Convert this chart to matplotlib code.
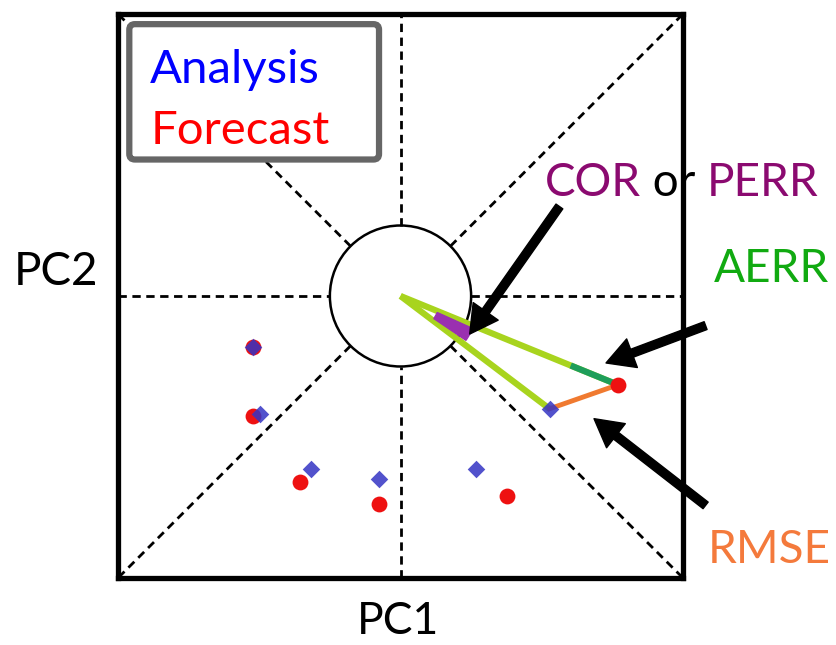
import numpy as np
import matplotlib.pyplot as plt
from matplotlib.patches import Circle, Wedge, FancyBboxPatch

plt.rcParams['font.family'] = ['Lato', 'DejaVu Sans']

# analysis / forecast positions in PC1-PC2 space
ana_pc1 = [-2.09, -1.99, -1.27, -0.30, 1.07, 2.11]
ana_pc2 = [-0.73, -1.68, -2.45, -2.59, -2.45, -1.60]
fc_pc1 = [-2.09, -2.09, -1.43, -0.31, 1.51, 3.08]
fc_pc2 = [-0.73, -1.70, -2.64, -2.95, -2.84, -1.26]

lim = 4.0
col_ana = '#3434c4'
col_fc = '#ee1111'
col_purple = '#8b0a70'

fig = plt.figure(figsize=(8.36, 6.45), dpi=100)
ax = fig.add_axes([118 / 836, 1 - 578 / 645, 565 / 836, 564 / 645])
ax.set_xlim(-lim, lim)
ax.set_ylim(-lim, lim)
ax.set_xticks([])
ax.set_yticks([])
for sp in ax.spines.values():
    sp.set_linewidth(3.8)
    sp.set_zorder(10)

# phase lines
dash = dict(color='k', lw=2.0, ls=(0, (3, 2)), zorder=1)
ax.plot([-lim, -1], [0, 0], **dash)
ax.plot([1, lim], [0, 0], **dash)
ax.plot([0, 0], [-lim, -1], **dash)
ax.plot([0, 0], [1, lim], **dash)
d = np.sqrt(0.5)
for sx in (-1, 1):
    for sy in (-1, 1):
        ax.plot([sx * d, sx * lim], [sy * d, sy * lim], **dash)
ax.add_patch(Circle((0, 0), 1, fill=False, ec='k', lw=1.8, zorder=2))

# points
ax.scatter(fc_pc1, fc_pc2, s=130, c=col_fc, marker='o', lw=0, zorder=4)
ax.scatter(ana_pc1, ana_pc2, s=80, c=col_ana, marker='D', lw=0, alpha=0.85, zorder=5)

# error illustration for last sample
a = np.array([ana_pc1[-1], ana_pc2[-1]])
f = np.array([fc_pc1[-1], fc_pc2[-1]])
ax.plot([0, f[0]], [0, f[1]], color='#a8d41e', lw=4.5, solid_capstyle='butt', zorder=3)
ax.plot([0, a[0]], [0, a[1]], color='#a8d41e', lw=4.5, solid_capstyle='butt', zorder=3)
frac = np.linalg.norm(a) / np.linalg.norm(f)
ax.plot([f[0] * frac, f[0]], [f[1] * frac, f[1]], color='#1e9e5a', lw=4.5, zorder=3.5)
ax.plot([a[0], f[0]], [a[1], f[1]], color='#f07a30', lw=3.5, zorder=3.5)
th_a = np.degrees(np.arctan2(a[1], a[0]))
th_f = np.degrees(np.arctan2(f[1], f[0]))
ax.add_patch(Wedge((0, 0), 1.12, th_a + 3, th_f - 2, width=0.55, color='#9a30b0', zorder=3.6))

# arrows
arr = dict(facecolor='k', edgecolor='k', width=6, headwidth=22, headlength=20)
ax.annotate('', xy=(0.98, -0.54), xytext=(2.25, 1.27), arrowprops=arr,
            annotation_clip=False, zorder=8)
ax.annotate('', xy=(2.91, -0.95), xytext=(4.32, -0.42), arrowprops=arr,
            annotation_clip=False, zorder=8)
ax.annotate('', xy=(2.74, -1.74), xytext=(4.32, -2.97), arrowprops=arr,
            annotation_clip=False, zorder=8)

# labels
fs = 33
t = ax.text(2.04, 1.60, 'COR', color=col_purple, fontsize=fs, va='center', ha='left',
            zorder=9, clip_on=False)
fig.canvas.draw()
t2 = ax.annotate(' or ', xy=(1, 0.5), xycoords=t, va='center', ha='left',
                 fontsize=fs, color='k', zorder=9, annotation_clip=False)
ax.annotate('PERR', xy=(1, 0.5), xycoords=t2, va='center', ha='left',
            fontsize=fs, color=col_purple, zorder=9, annotation_clip=False)
ax.text(4.43, 0.38, 'AERR', color='#11aa11', fontsize=fs, va='center', ha='left',
        clip_on=False)
ax.text(4.35, -3.6, 'RMSE', color='#f47a3c', fontsize=fs, va='center', ha='left',
        clip_on=False)
fig.text(56 / 836, 1 - 272 / 645, 'PC2', fontsize=fs, ha='center', va='center')
fig.text(398 / 836, 1 - 634 / 645, 'PC1', fontsize=32, ha='center', va='baseline')

# legend box
ax.add_patch(FancyBboxPatch((0.020, 0.742), 0.442, 0.240, transform=ax.transAxes,
                            boxstyle='round,pad=0,rounding_size=0.01',
                            fc='white', ec='#666666', lw=4.5, zorder=9))
ax.text(0.057, 0.90, 'Analysis', transform=ax.transAxes, color='#0000ff', fontsize=34,
        va='center', ha='left', zorder=10)
ax.text(0.057, 0.793, 'Forecast', transform=ax.transAxes, color='#ff0000', fontsize=34,
        va='center', ha='left', zorder=10)

fig.savefig('out.png', dpi=100)
